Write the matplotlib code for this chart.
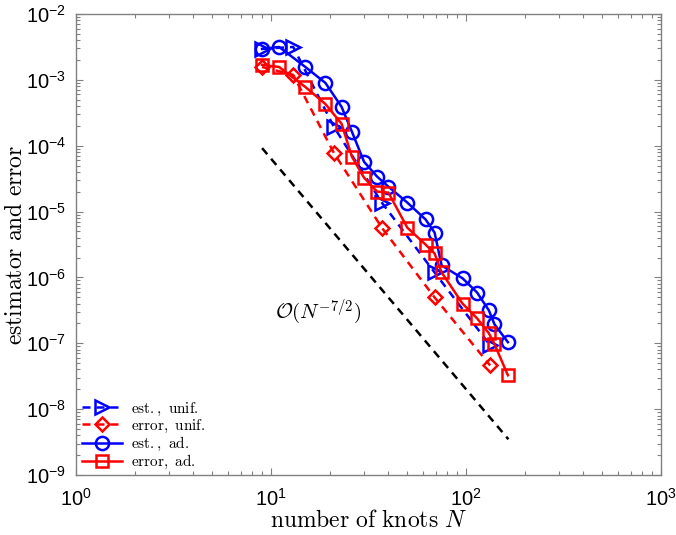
import matplotlib
matplotlib.use("Agg")
import matplotlib.pyplot as plt
import numpy as np
from matplotlib.ticker import FixedLocator, FuncFormatter, NullFormatter

# ---- data ----
N_unif = [9, 13, 21, 37, 69, 133]
est_unif = [2.95e-3, 3.16e-3, 1.94e-4, 1.37e-5, 1.19e-6, 9.3e-8]
err_unif = [1.57e-3, 1.19e-3, 7.8e-5, 5.7e-6, 4.97e-7, 4.6e-8]

N_ad = [9, 11, 15, 19, 23, 26, 30, 35, 40, 50, 62, 69, 75, 96, 114, 131, 140, 164]
est_ad = [2.95e-3, 3.16e-3, 1.57e-3, 9.0e-4, 3.9e-4, 1.63e-4, 5.7e-5, 3.4e-5, 2.39e-5,
          1.37e-5, 7.6e-6, 4.8e-6, 1.52e-6, 9.7e-7, 5.9e-7, 3.16e-7, 1.94e-7, 1.04e-7]
err_ad = [1.69e-3, 1.57e-3, 7.8e-4, 4.3e-4, 2.16e-4, 6.8e-5, 3.27e-5, 2.01e-5, 1.94e-5,
          5.7e-6, 3.16e-6, 2.31e-6, 1.19e-6, 4.0e-7, 2.39e-7, 1.42e-7, 9.7e-8, 3.27e-8]

N_ref = [9, 165]
ref_vals = [9.2e-5, 9.2e-5 * (165 / 9) ** -3.5]

x_exps = [0, 1, 2, 3]
y_exps = [-9, -8, -7, -6, -5, -4, -3, -2]

labels = ["est., unif.", "error, unif.", "est., ad.", "error, ad."]


def mrm(s):
    return r'$\mathrm{' + s.replace(' ', r'\ ') + '}$'


plt.rcParams['font.family'] = ['Liberation Sans', 'DejaVu Sans']
plt.rcParams['mathtext.fontset'] = 'cm'

fig = plt.figure(figsize=(6.76, 5.35), dpi=100)
ax = fig.add_axes([76 / 676, 1 - 475 / 535, 585 / 676, 461 / 535])

lw = 1.8
dash = (3.2, 2.4)
ax.loglog(N_unif, est_unif, color='blue', lw=lw, ls='--', dashes=dash, marker='>',
          ms=10, mfc='none', mew=1.8, label=mrm(labels[0]))
ax.loglog(N_unif, err_unif, color='red', lw=lw, ls='--', dashes=dash, marker='D',
          ms=7.5, mfc='none', mew=1.8, label=mrm(labels[1]))
ax.loglog(N_ad, est_ad, color='blue', lw=lw, ls='-', marker='o',
          ms=9.5, mfc='none', mew=1.8, label=mrm(labels[2]))
ax.loglog(N_ad, err_ad, color='red', lw=lw, ls='-', marker='s',
          ms=8.5, mfc='none', mew=1.8, label=mrm(labels[3]))
ax.loglog(N_ref, ref_vals, color='black', lw=lw, ls='--', dashes=dash)

ax.text(17.4, 3.0e-7, r'$\mathcal{O}(N^{-7/2})$', fontsize=15, ha='center', va='center')

ax.set_xlim(10.0 ** x_exps[0], 10.0 ** x_exps[-1])
ax.set_ylim(10.0 ** y_exps[0], 10.0 ** y_exps[-1])

xmaj = [10.0 ** e for e in x_exps]
ymaj = [10.0 ** e for e in y_exps]
xmin = [m * 10.0 ** e for e in x_exps[:-1] for m in range(2, 10)]
ymin = [m * 10.0 ** e for e in y_exps[:-1] for m in range(2, 10)]
ax.xaxis.set_major_locator(FixedLocator(xmaj))
ax.yaxis.set_major_locator(FixedLocator(ymaj))
ax.xaxis.set_minor_locator(FixedLocator(xmin))
ax.yaxis.set_minor_locator(FixedLocator(ymin))
ax.xaxis.set_minor_formatter(NullFormatter())
ax.yaxis.set_minor_formatter(NullFormatter())

fmt = FuncFormatter(lambda v, p: r'$\mathdefault{10^{%d}}$' % int(round(np.log10(v))))
ax.xaxis.set_major_formatter(fmt)
ax.yaxis.set_major_formatter(fmt)

gray = '#808080'
for s in ax.spines.values():
    s.set_color(gray)
    s.set_linewidth(1.0)
ax.tick_params(which='both', direction='in', top=True, right=True, color=gray,
               labelsize=14.5, labelcolor='black')
ax.tick_params(which='major', length=5, width=0.8, pad=7)
ax.tick_params(which='minor', length=3, width=0.8)
ax.tick_params(axis='x', which='major', pad=9)

ax.set_xlabel(r'$\mathrm{number\ of\ knots}\ N$', fontsize=17, labelpad=0.5)
ax.set_ylabel(r'$\mathrm{estimator\ and\ error}$', fontsize=17, labelpad=-1)

ax.legend(loc='lower left', frameon=False, fontsize=11, handlelength=2.6,
          handletextpad=0.6, labelspacing=0.0, borderaxespad=0.0,
          bbox_to_anchor=(0.0, -0.005))

fig.savefig('out.png', dpi=100)
